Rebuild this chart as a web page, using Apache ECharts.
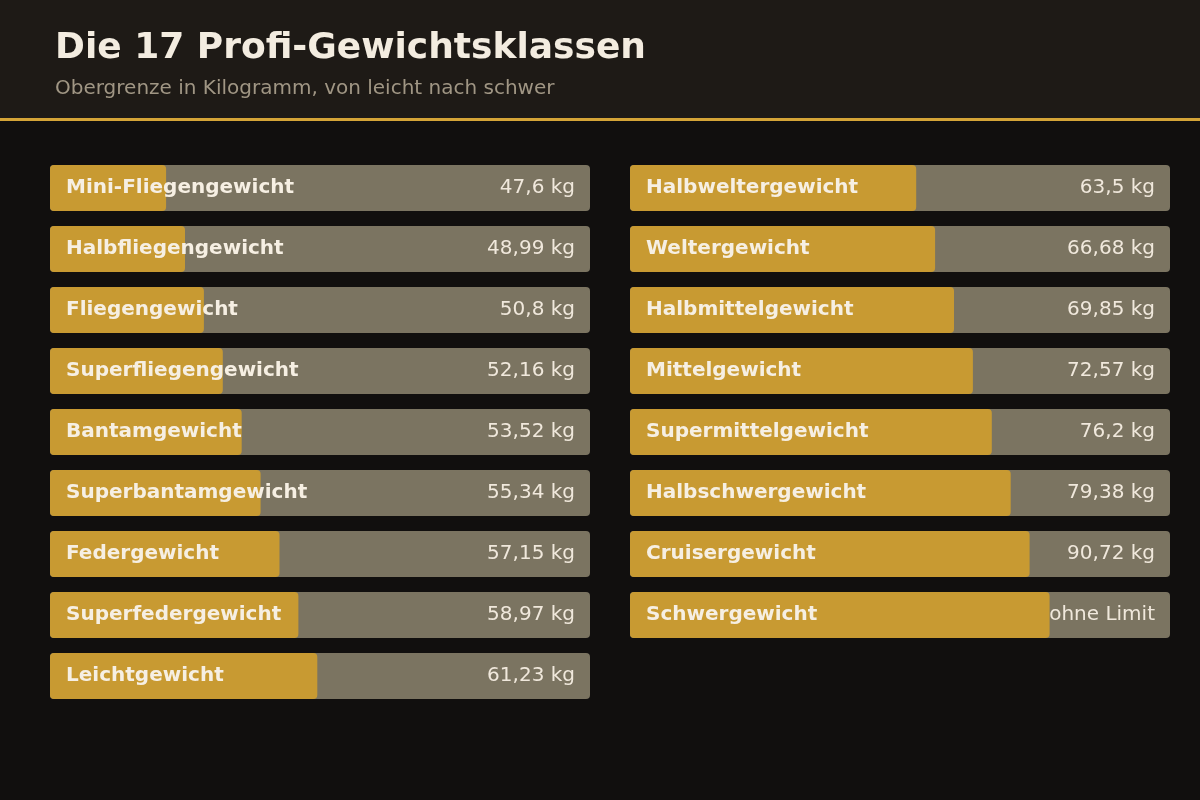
<!DOCTYPE html>
<html><head><meta charset="utf-8">
<script src="https://cdn.jsdelivr.net/npm/echarts@6/dist/echarts.min.js"></script>
<style>html,body{margin:0;padding:0;background:#110f0e}#c{width:1200px;height:800px}</style>
</head><body><div id="c"></div>
<script>
const leftNames = ['Mini-Fliegengewicht','Halbfliegengewicht','Fliegengewicht','Superfliegengewicht','Bantamgewicht','Superbantamgewicht','Federgewicht','Superfedergewicht','Leichtgewicht'];
const leftLabels = ['47,6 kg','48,99 kg','50,8 kg','52,16 kg','53,52 kg','55,34 kg','57,15 kg','58,97 kg','61,23 kg'];
const leftFill = [21.5,25,28.5,32,35.5,39,42.5,46,49.5];
const rightNames = ['Halbweltergewicht','Weltergewicht','Halbmittelgewicht','Mittelgewicht','Supermittelgewicht','Halbschwergewicht','Cruisergewicht','Schwergewicht'];
const rightLabels = ['63,5 kg','66,68 kg','69,85 kg','72,57 kg','76,2 kg','79,38 kg','90,72 kg','ohne Limit'];
const rightFill = [53,56.5,60,63.5,67,70.5,74,77.7];

const F = 'DejaVu Sans';
function col(idx, names, labels, fill){
  const cats = names.slice(); while(cats.length<9) cats.push('');
  const bg = names.map(()=>100);
  return [
    {type:'bar',xAxisIndex:idx,yAxisIndex:idx,data:bg,barWidth:46,barGap:'-100%',z:1,
     itemStyle:{color:'#7b7461',borderRadius:4},silent:true,
     label:{show:true,position:'insideRight',distance:15,color:'#f0e8dc',fontFamily:F,fontSize:20,
       formatter:p=>labels[p.dataIndex]}},
    {type:'bar',xAxisIndex:idx,yAxisIndex:idx,data:fill,barWidth:46,barGap:'-100%',z:2,
     itemStyle:{color:'#c89a32',borderRadius:4},silent:true,
     label:{show:true,position:'insideLeft',distance:16,color:'#f6efe3',fontFamily:F,fontSize:20,fontWeight:'bold',
       formatter:p=>names[p.dataIndex]}}
  ];
}
const chart = echarts.init(document.getElementById('c'));
const cat = n=>{const c=n.slice();while(c.length<9)c.push('');return c;};
chart.setOption({
  backgroundColor:'#110f0e',animation:false,
  graphic:[
    {type:'rect',shape:{x:0,y:0,width:1200,height:118},style:{fill:'#1e1a16'},z:-1},
    {type:'rect',shape:{x:0,y:118,width:1200,height:3},style:{fill:'#d4a437'},z:-1}
  ],
  title:{text:'Die 17 Profi-Gewichtsklassen',subtext:'Obergrenze in Kilogramm, von leicht nach schwer',left:50,top:26,itemGap:12,
    textStyle:{color:'#f3ece0',fontFamily:F,fontSize:36,fontWeight:'bold'},
    subtextStyle:{color:'#a09684',fontFamily:F,fontSize:20}},
  grid:[{left:50,width:540,top:157.5,height:549},{left:630,width:540,top:157.5,height:549}],
  xAxis:[{gridIndex:0,type:'value',min:0,max:100,show:false},{gridIndex:1,type:'value',min:0,max:100,show:false}],
  yAxis:[{gridIndex:0,type:'category',inverse:true,data:cat(leftNames),show:false},
         {gridIndex:1,type:'category',inverse:true,data:cat(rightNames),show:false}],
  series:[...col(0,leftNames,leftLabels,leftFill),...col(1,rightNames,rightLabels,rightFill)]
});
</script></body></html>
